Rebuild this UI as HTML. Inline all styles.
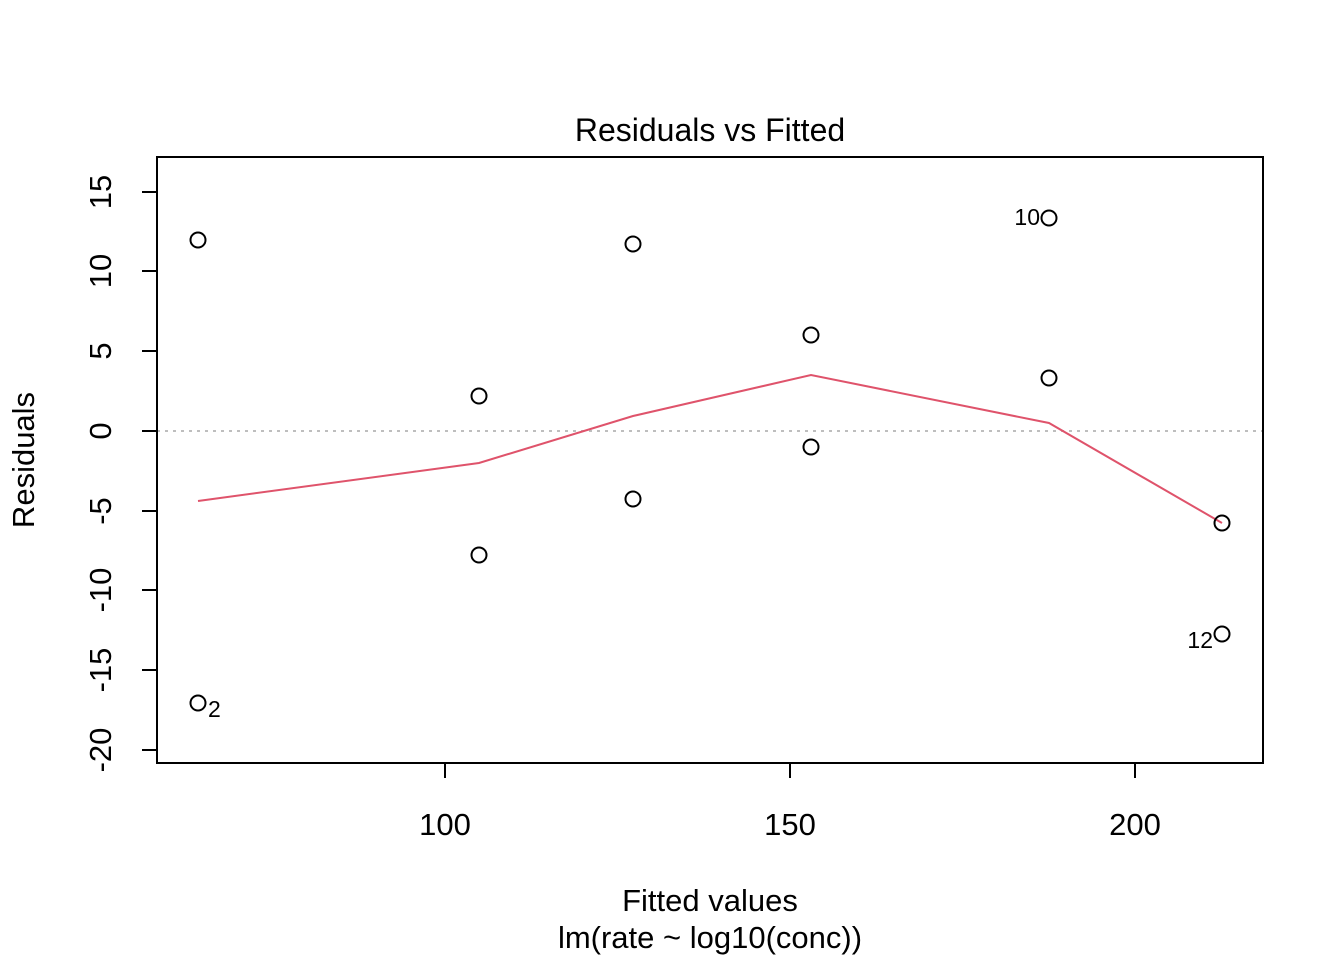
<!DOCTYPE html>
<html><head><style>body{margin:0;background:#fff}</style></head><body>
<svg width="1344" height="960" xmlns="http://www.w3.org/2000/svg" font-family="Liberation Sans, Arial, sans-serif">
<rect width="1344" height="960" fill="#fff"/>
<text x="710" y="141" font-size="32" text-anchor="middle">Residuals vs Fitted</text>
<line x1="157" y1="431" x2="1263" y2="431" stroke="#bebebe" stroke-width="2" stroke-dasharray="3,5"/>
<rect x="157" y="157" width="1106" height="606" fill="none" stroke="#000" stroke-width="2"/>
<g stroke="#000" stroke-width="2">
<line x1="445" y1="763" x2="445" y2="778"/><line x1="790" y1="763" x2="790" y2="778"/><line x1="1135" y1="763" x2="1135" y2="778"/>
<line x1="142" y1="192" x2="157" y2="192"/><line x1="142" y1="271" x2="157" y2="271"/><line x1="142" y1="351" x2="157" y2="351"/><line x1="142" y1="431" x2="157" y2="431"/><line x1="142" y1="511" x2="157" y2="511"/><line x1="142" y1="590" x2="157" y2="590"/><line x1="142" y1="670" x2="157" y2="670"/><line x1="142" y1="750" x2="157" y2="750"/>
</g>
<g font-size="31" text-anchor="middle">
<text x="445" y="835">100</text><text x="790" y="835">150</text><text x="1135" y="835">200</text>
<text transform="translate(111,192) rotate(-90)">15</text>
<text transform="translate(111,271) rotate(-90)">10</text>
<text transform="translate(111,351) rotate(-90)">5</text>
<text transform="translate(111,431) rotate(-90)">0</text>
<text transform="translate(111,511) rotate(-90)">-5</text>
<text transform="translate(111,590) rotate(-90)">-10</text>
<text transform="translate(111,670) rotate(-90)">-15</text>
<text transform="translate(111,750) rotate(-90)">-20</text>
<text x="710" y="911">Fitted values</text>
<text x="710" y="948">lm(rate ~ log10(conc))</text>
<text transform="translate(34,460) rotate(-90)">Residuals</text>
</g>
<polyline points="198,501 479,463 633,416 811,375 1049,423 1222,523" fill="none" stroke="#DF536B" stroke-width="2"/>
<g fill="none" stroke="#000" stroke-width="2">
<circle cx="198" cy="240" r="7.5"/><circle cx="198" cy="703" r="7.5"/>
<circle cx="479" cy="396" r="7.5"/><circle cx="479" cy="555" r="7.5"/>
<circle cx="633" cy="244" r="7.5"/><circle cx="633" cy="499" r="7.5"/>
<circle cx="811" cy="335" r="7.5"/><circle cx="811" cy="447" r="7.5"/>
<circle cx="1049" cy="218" r="7.5"/><circle cx="1049" cy="378" r="7.5"/>
<circle cx="1222" cy="523" r="7.5"/><circle cx="1222" cy="634" r="7.5"/>
</g>
<g font-size="23">
<text x="208" y="717">2</text>
<text x="1040" y="225" text-anchor="end">10</text>
<text x="1213" y="648" text-anchor="end">12</text>
</g>
</svg>
</body></html>
